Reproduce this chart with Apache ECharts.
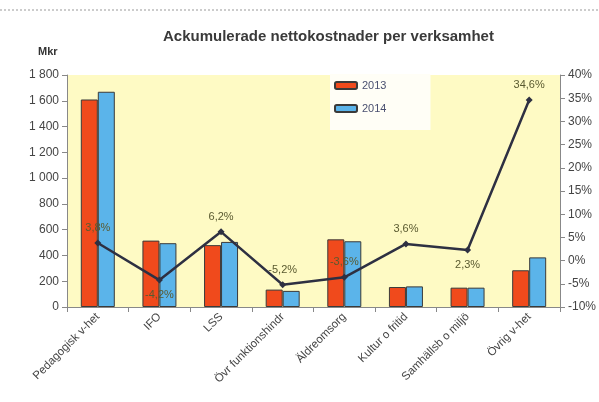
<!DOCTYPE html>
<html>
<head>
<meta charset="utf-8">
<script src="https://cdn.jsdelivr.net/npm/echarts@6/dist/echarts.min.js"></script>
<style>
  html, body { margin: 0; padding: 0; background: #fff; }
  #chart { width: 599px; height: 402px; }
</style>
</head>
<body>
<div id="chart"></div>
<script>
// kategorier och värden (Mkr, förändring i %)
const categories = ["Pedagogisk v-het", "IFO", "LSS", "Övr funktionshindr", "Äldreomsorg", "Kultur o fritid", "Samhällsb o miljö", "Övrig v-het"];
const values2013 = [1610, 515, 480, 135, 525, 155, 150, 285];
const values2014 = [1670, 495, 505, 125, 510, 160, 150, 385];
const changePct = [3.8, -4.2, 6.2, -5.2, -3.6, 3.6, 2.3, 34.6];
const labelPos = ["top", "bottom", "top", "top", "top", "top", "bottom", "top"];

const fmtNum = v => String(v).replace(/\B(?=(\d{3})+(?!\d))/g, " ");
const fmtPct = v => v.toFixed(1).replace(".", ",") + "%";

const chart = echarts.init(document.getElementById("chart"));
const barStyle = color => ({ color: color, borderColor: "#3a3a3a", borderWidth: 1 });

const option = {
  backgroundColor: "#fff",
  textStyle: { fontFamily: "Liberation Sans, Arial, sans-serif" },
  title: {
    text: "Ackumulerade nettokostnader per verksamhet",
    left: 158,
    top: 24,
    textStyle: { fontSize: 15, fontWeight: "bold", color: "#3a3a3a" }
  },
  graphic: [
    { type: "text", left: 38, top: 46, style: { text: "Mkr", font: "bold 11px Liberation Sans", fill: "#333" } },
    { type: "line", shape: { x1: 0, y1: 10, x2: 599, y2: 10 }, style: { stroke: "#999", lineWidth: 1, lineDash: [2, 2] } }
  ],
  legend: {
    data: ["2013", "2014"],
    orient: "vertical",
    left: 330,
    top: 74,
    padding: [6, 44, 16, 4],
    itemGap: 12,
    itemWidth: 22,
    itemHeight: 7,
    backgroundColor: "#fffef6",
    textStyle: { fontSize: 11, color: "#4a5070" }
  },
  grid: { left: 67, right: 35, top: 75, bottom: 95 },
  xAxis: {
    type: "category",
    data: categories,
    axisLine: { lineStyle: { color: "#888" } },
    axisTick: { show: true, lineStyle: { color: "#888" } },
    axisLabel: { interval: 0, rotate: 45, fontSize: 11.5, color: "#444", margin: 8 }
  },
  yAxis: [
    {
      type: "value",
      min: 0,
      max: 1800,
      interval: 200,
      splitLine: { show: false },
      splitArea: { show: true, areaStyle: { color: ["#fefac4", "#fefac4"] } },
      axisLine: { show: true, lineStyle: { color: "#888" } },
      axisTick: { show: true, lineStyle: { color: "#888" } },
      axisLabel: { fontSize: 12, color: "#444", formatter: fmtNum }
    },
    {
      type: "value",
      min: -10,
      max: 40,
      interval: 5,
      splitLine: { show: false },
      axisLine: { show: true, lineStyle: { color: "#888" } },
      axisTick: { show: true, lineStyle: { color: "#888" } },
      axisLabel: { fontSize: 12, color: "#444", formatter: v => v + "%" }
    }
  ],
  series: [
    {
      name: "2013",
      type: "bar",
      data: values2013,
      barWidth: 17,
      barGap: "0%",
      itemStyle: barStyle("#f04a1c")
    },
    {
      name: "2014",
      type: "bar",
      data: values2014,
      barWidth: 17,
      itemStyle: barStyle("#5bb4ea")
    },
    {
      name: "Förändring",
      type: "line",
      yAxisIndex: 1,
      data: changePct.map((v, i) => ({ value: v, label: { position: labelPos[i] } })),
      symbol: "diamond",
      symbolSize: 7,
      lineStyle: { color: "#2e3042", width: 2.5 },
      itemStyle: { color: "#2e3042" },
      label: {
        show: true,
        fontSize: 11,
        color: "#5a5a30",
        distance: 6,
        formatter: p => fmtPct(p.value)
      },
      z: 5
    }
  ]
};
chart.setOption(option);
</script>
</body>
</html>
